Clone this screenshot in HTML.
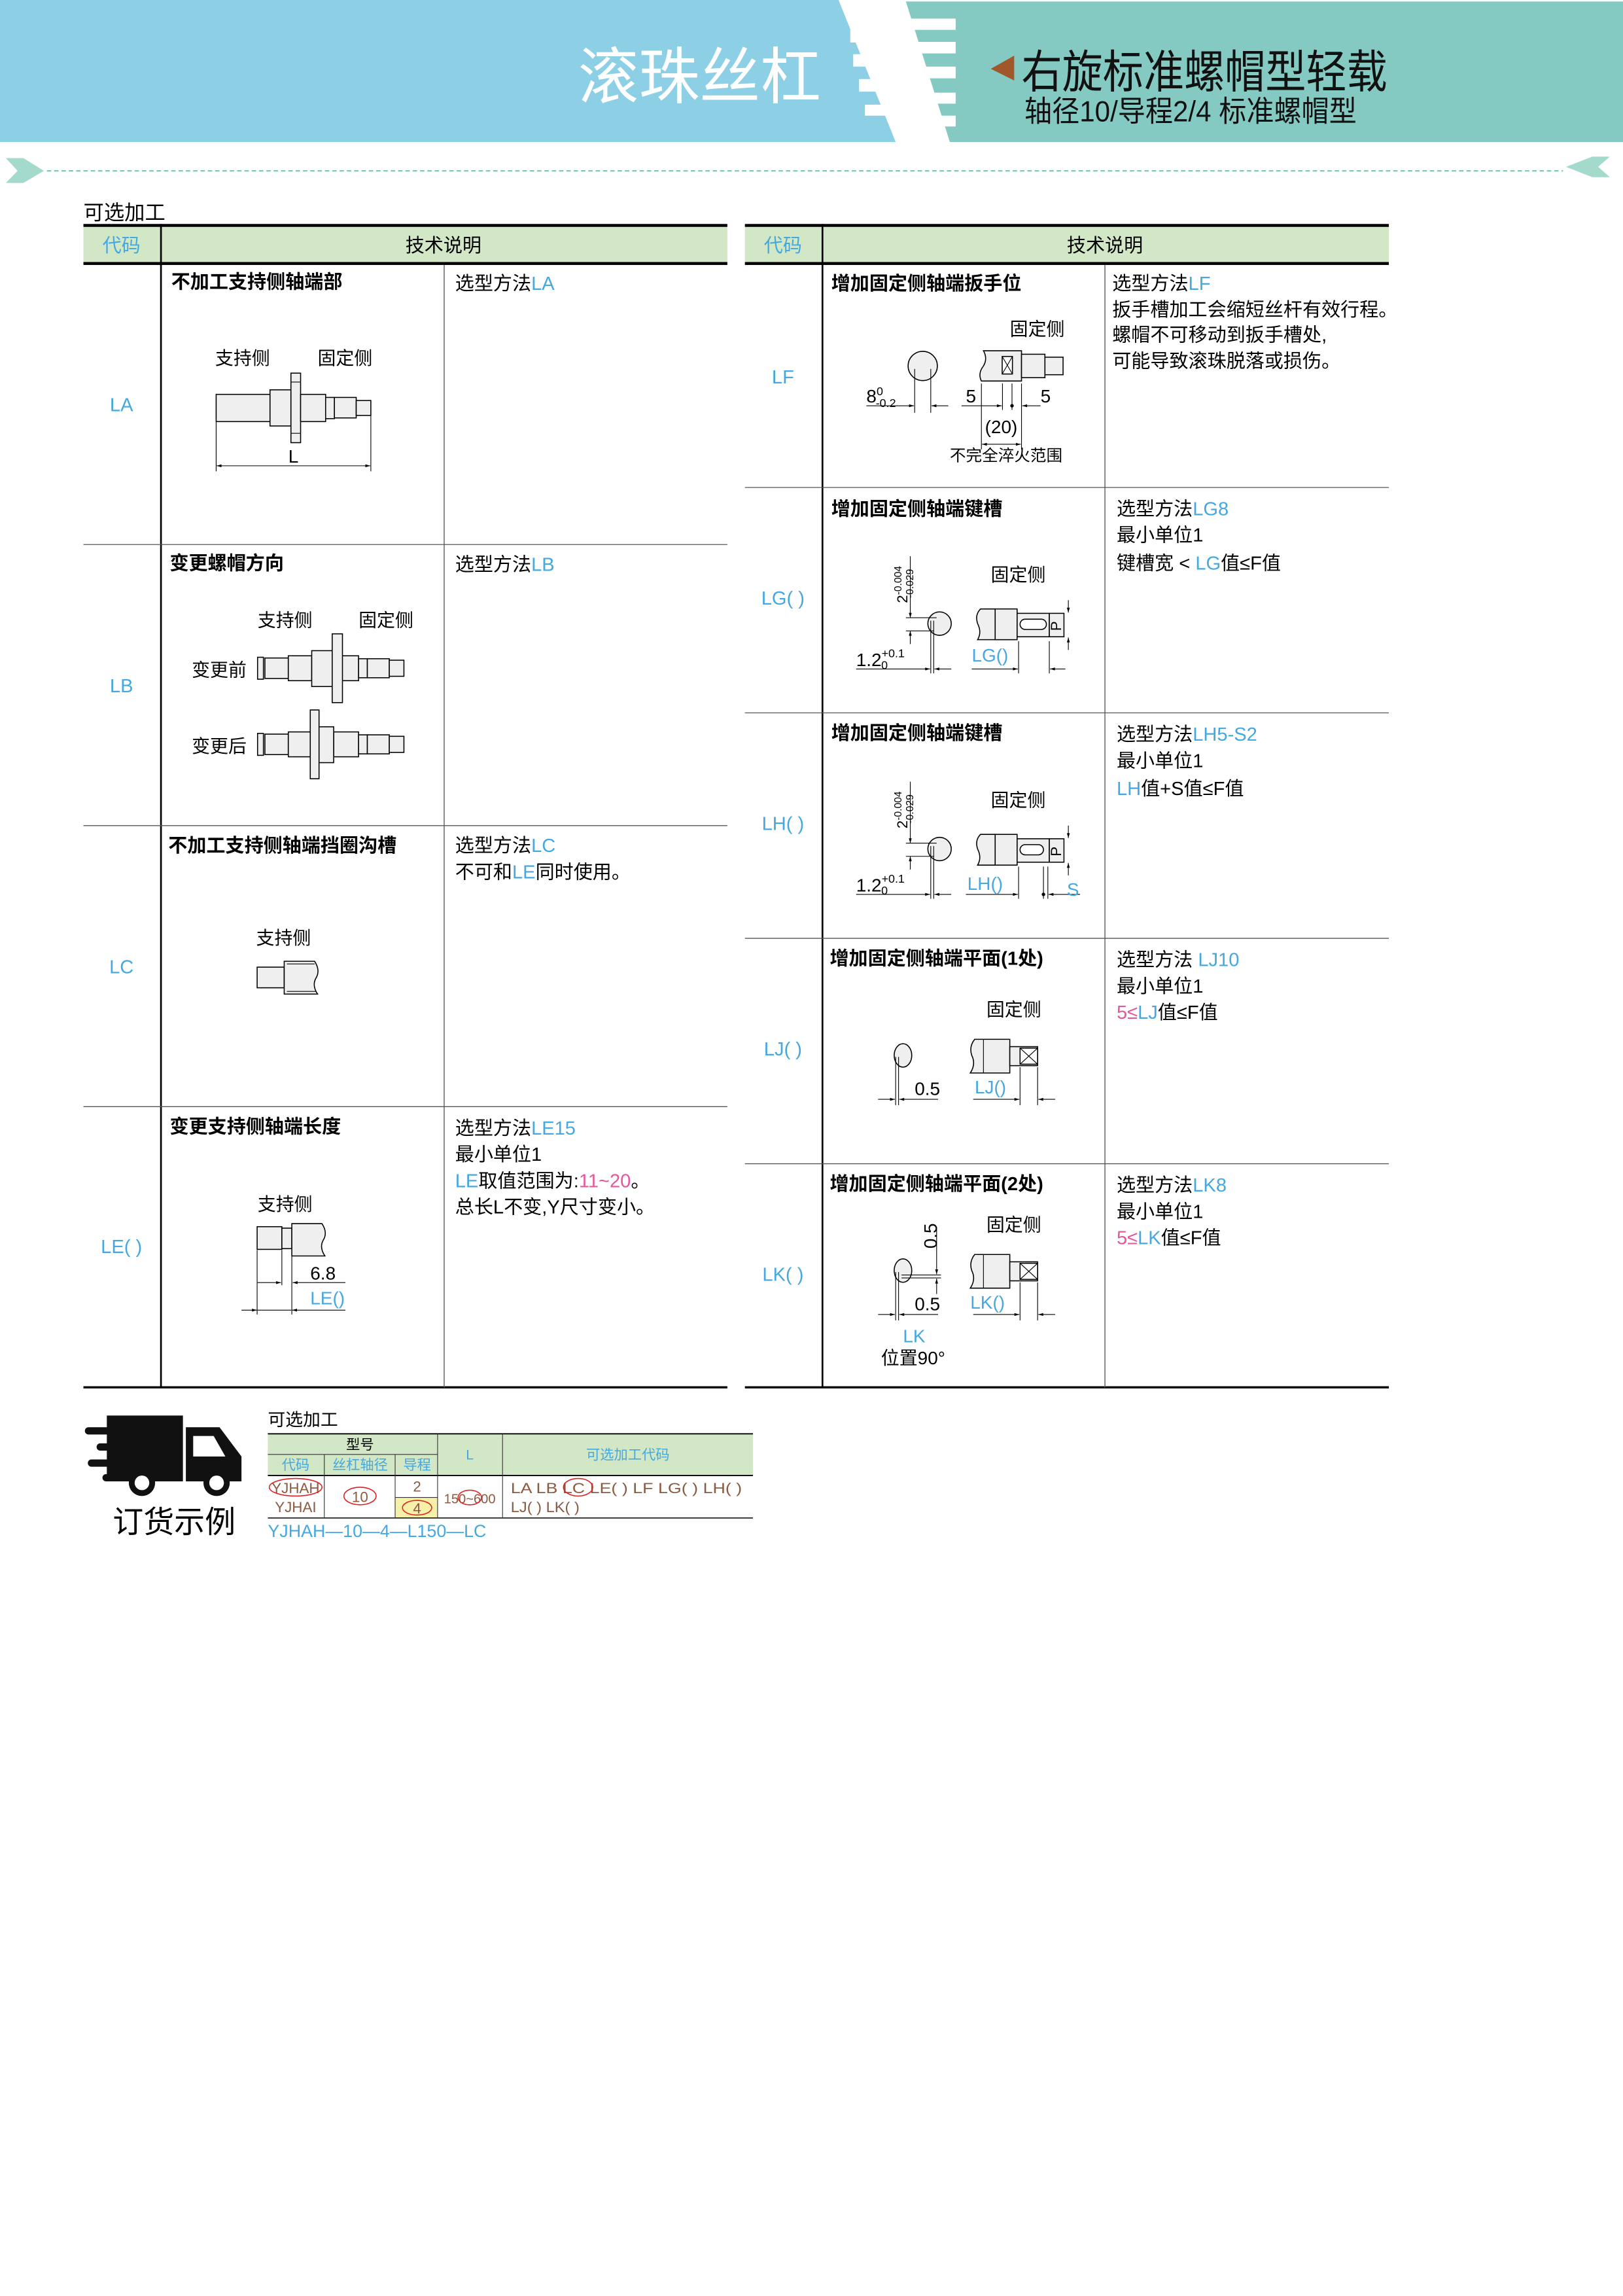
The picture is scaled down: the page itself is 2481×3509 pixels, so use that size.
<!DOCTYPE html>
<html><head><meta charset="utf-8"><style>
html,body{margin:0;padding:0;background:#fff;}
svg{display:block;}
text{font-family:"Liberation Sans","Noto Sans CJK SC",sans-serif;}
.b{fill:#45a8e0;}
.p{fill:#e6569a;}
.br{fill:#8c5a40;}
.s{fill:#efefef;stroke:#000;stroke-width:0.7;}
.w{fill:#fff;stroke:#000;stroke-width:0.7;}
.l{stroke:#000;stroke-width:0.5;fill:none;}
.t{font-size:13px;}
.tb{font-size:13px;font-weight:bold;}
.sm{font-size:12.5px;}
</style></head><body>
<svg width="2481" height="3509" viewBox="0 0 1109 1568.5" xmlns="http://www.w3.org/2000/svg">
<defs>
<marker id="a" viewBox="0 0 10 6" refX="10" refY="3" markerWidth="8" markerHeight="4" orient="auto-start-reverse"><path d="M0,0L10,3L0,6z" fill="#000"/></marker>
</defs>
<!-- header -->
<polygon points="0,0 573,0 612,97 0,97" fill="#8dd0e6"/>
<polygon points="619,1 1109,1 1109,97 649,97" fill="#85cac2"/>
<g fill="#fff">
<rect x="619" y="12.7" width="34" height="7.7"/><rect x="619" y="28.6" width="34" height="7.9"/><rect x="619" y="45.5" width="34" height="8"/><rect x="619" y="63.3" width="34" height="7.5"/><rect x="619" y="79" width="34" height="7.4"/>
<rect x="581" y="20.4" width="38" height="8.6"/><rect x="583" y="37" width="36" height="8.5"/><rect x="587" y="54" width="32" height="8.6"/><rect x="591" y="71.5" width="28" height="7.5"/>
</g>
<text x="395" y="67" font-size="42" fill="#fff" textLength="166" lengthAdjust="spacingAndGlyphs">滚珠丝杠</text>
<polygon points="693,38 677,47 693,55" fill="#a0582a"/>
<text x="698" y="60" font-size="31" fill="#111" textLength="250" lengthAdjust="spacingAndGlyphs">右旋标准螺帽型轻载</text>
<text x="700" y="83" font-size="20" fill="#111" textLength="227" lengthAdjust="spacingAndGlyphs">轴径10/导程2/4 标准螺帽型</text>
<!-- dotted line -->
<line x1="32" y1="116.7" x2="1068" y2="116.7" stroke="#7ccbb6" stroke-width="1" stroke-dasharray="3,2"/>
<g fill="#7ccbb6" opacity="0.7"><polygon points="4,108 16,108 30,116.7 16,125 4,125 12,116.7"/></g>
<g fill="#7ccbb6" opacity="0.7"><polygon points="1100,107 1088,107 1070,114 1088,121 1100,121 1092,114"/></g>
<text x="57" y="150" font-size="14">可选加工</text>

<!-- LEFT TABLE -->
<rect x="57" y="155" width="440" height="24" fill="#d2e7c6"/>
<rect x="57" y="153" width="440" height="2" fill="#000"/>
<rect x="57" y="179" width="440" height="2" fill="#000"/>
<rect x="57" y="947" width="440" height="1.5" fill="#000"/>
<line x1="110" y1="153" x2="110" y2="948" stroke="#000" stroke-width="1.2"/>
<line x1="303.5" y1="181" x2="303.5" y2="948" stroke="#555" stroke-width="0.6"/>
<g stroke="#555" stroke-width="0.6"><line x1="57" y1="372" x2="497" y2="372"/><line x1="57" y1="564" x2="497" y2="564"/><line x1="57" y1="756" x2="497" y2="756"/></g>
<text x="83" y="172" class="t b" text-anchor="middle">代码</text>
<text x="303" y="172" class="t" text-anchor="middle">技术说明</text>
<g class="t b" text-anchor="middle"><text x="83" y="281">LA</text><text x="83" y="473">LB</text><text x="83" y="665">LC</text><text x="83" y="856">LE( )</text></g>
<text x="117" y="197" class="tb">不加工支持侧轴端部</text>
<text x="116" y="389" class="tb">变更螺帽方向</text>
<text x="115" y="582" class="tb">不加工支持侧轴端挡圈沟槽</text>
<text x="116" y="774" class="tb">变更支持侧轴端长度</text>
<text x="311" y="198" class="t">选型方法<tspan class="b">LA</tspan></text>
<text x="311" y="390" class="t">选型方法<tspan class="b">LB</tspan></text>
<text x="311" y="582" class="t">选型方法<tspan class="b">LC</tspan></text>
<text x="311" y="600" class="t">不可和<tspan class="b">LE</tspan>同时使用。</text>
<text x="311" y="775" class="t">选型方法<tspan class="b">LE15</tspan></text>
<text x="311" y="793" class="t">最小单位1</text>
<text x="311" y="811" class="t"><tspan class="b">LE</tspan>取值范围为:<tspan class="p">11~20</tspan>。</text>
<text x="311" y="829" class="t">总长L不变,Y尺寸变小。</text>

<!-- LA drawing -->
<text x="147" y="249" class="sm">支持侧</text><text x="217" y="249" class="sm">固定侧</text>
<rect class="s" x="147.7" y="269.4" width="36.8" height="18.6"/>
<rect class="s" x="184.5" y="266.3" width="14.3" height="24.7"/>
<rect class="s" x="198.8" y="254.9" width="6.6" height="47.5"/>
<line class="l" x1="198.8" y1="261" x2="205.4" y2="261"/><line class="l" x1="198.8" y1="296" x2="205.4" y2="296"/>
<rect class="s" x="205.4" y="269.4" width="17.1" height="18.6"/>
<rect class="s" x="222.5" y="271.5" width="6" height="14.5"/>
<rect class="s" x="228.5" y="271.5" width="14.9" height="14"/>
<rect class="s" x="243.4" y="273.6" width="10" height="10.2"/>
<line class="l" x1="147.7" y1="288" x2="147.7" y2="322"/><line class="l" x1="253.4" y1="284" x2="253.4" y2="322"/>
<line class="l" x1="148" y1="318.2" x2="253" y2="318.2" marker-start="url(#a)" marker-end="url(#a)"/>
<text x="197" y="316" class="sm">L</text>

<!-- LB drawing -->
<text x="176" y="428" class="sm">支持侧</text><text x="245" y="428" class="sm">固定侧</text>
<text x="131" y="462" class="sm">变更前</text><text x="131" y="514" class="sm">变更后</text>
<g id="lbs">
<rect class="s" x="176" y="449" width="4" height="15"/>
<rect class="s" x="181" y="449.5" width="16" height="14"/>
<rect class="s" x="197" y="448" width="16" height="17"/>
<rect class="s" x="228" y="448" width="17" height="17"/>
<rect class="s" x="245" y="450" width="6" height="13"/>
<rect class="s" x="251" y="450" width="15" height="13"/>
<rect class="s" x="266" y="451" width="10" height="11"/>
</g>
<rect class="s" x="213" y="444.5" width="15" height="24.5"/>
<rect class="s" x="227" y="433" width="7" height="47"/>
<use href="#lbs" y="52"/>
<rect class="s" x="213" y="496.5" width="15" height="24.5"/>
<rect class="s" x="212" y="485" width="6" height="47"/>

<!-- LC drawing -->
<text x="175" y="645" class="sm">支持侧</text>
<rect class="s" x="175.7" y="660.7" width="18.5" height="14.1"/>
<path class="s" d="M194.2,656.7 H215 Q219,663 216,668 Q213,673 217,679.1 H194.2 Z"/>
<line class="l" x1="196" y1="658.5" x2="215" y2="658.5"/><line class="l" x1="196" y1="677.3" x2="216" y2="677.3"/>

<!-- LE drawing -->
<text x="176" y="827" class="sm">支持侧</text>
<rect class="s" x="175.7" y="838" width="16.9" height="15.5"/>
<rect class="s" x="192.6" y="839" width="6.8" height="14"/>
<path class="s" d="M199.4,835.9 H220 Q224,842 221,847 Q218,852 222,858 H199.4 Z"/>
<line class="l" x1="175.7" y1="854" x2="175.7" y2="898"/><line class="l" x1="192.6" y1="854" x2="192.6" y2="878"/><line class="l" x1="199.4" y1="858" x2="199.4" y2="898"/>
<line class="l" x1="176" y1="876.2" x2="192" y2="876.2" marker-end="url(#a)"/>
<line class="l" x1="200" y1="876.2" x2="236" y2="876.2" marker-start="url(#a)"/>
<line class="l" x1="165" y1="895" x2="175.5" y2="895" marker-end="url(#a)"/>
<line class="l" x1="176" y1="895" x2="199" y2="895"/>
<line class="l" x1="199.6" y1="895" x2="236" y2="895" marker-start="url(#a)"/>
<text x="212" y="874" class="sm">6.8</text>
<text x="212" y="891" class="sm b">LE()</text>

<!-- RIGHT TABLE -->
<rect x="509" y="155" width="440" height="24" fill="#d2e7c6"/>
<rect x="509" y="153" width="440" height="2" fill="#000"/>
<rect x="509" y="179" width="440" height="2" fill="#000"/>
<rect x="509" y="947" width="440" height="1.5" fill="#000"/>
<line x1="562" y1="153" x2="562" y2="948" stroke="#000" stroke-width="1.2"/>
<line x1="755" y1="181" x2="755" y2="948" stroke="#555" stroke-width="0.6"/>
<g stroke="#555" stroke-width="0.6"><line x1="509" y1="333" x2="949" y2="333"/><line x1="509" y1="487" x2="949" y2="487"/><line x1="509" y1="641" x2="949" y2="641"/><line x1="509" y1="795" x2="949" y2="795"/></g>
<text x="535" y="172" class="t b" text-anchor="middle">代码</text>
<text x="755" y="172" class="t" text-anchor="middle">技术说明</text>
<g class="t b" text-anchor="middle"><text x="535" y="262">LF</text><text x="535" y="413">LG( )</text><text x="535" y="567">LH( )</text><text x="535" y="721">LJ( )</text><text x="535" y="875">LK( )</text></g>
<text x="568" y="198" class="tb">增加固定侧轴端扳手位</text>
<text x="568" y="352" class="tb">增加固定侧轴端键槽</text>
<text x="568" y="505" class="tb">增加固定侧轴端键槽</text>
<text x="567" y="659" class="tb">增加固定侧轴端平面(1处)</text>
<text x="567" y="813" class="tb">增加固定侧轴端平面(2处)</text>
<text x="760" y="198" class="t">选型方法<tspan class="b">LF</tspan></text>
<text x="760" y="216" class="t">扳手槽加工会缩短丝杆有效行程。</text>
<text x="760" y="233" class="t">螺帽不可移动到扳手槽处,</text>
<text x="760" y="251" class="t">可能导致滚珠脱落或损伤。</text>
<text x="763" y="352" class="t">选型方法<tspan class="b">LG8</tspan></text>
<text x="763" y="370" class="t">最小单位1</text>
<text x="763" y="389" class="t">键槽宽 &lt; <tspan class="b">LG</tspan>值≤F值</text>
<text x="763" y="506" class="t">选型方法<tspan class="b">LH5-S2</tspan></text>
<text x="763" y="524" class="t">最小单位1</text>
<text x="763" y="543" class="t"><tspan class="b">LH</tspan>值+S值≤F值</text>
<text x="763" y="660" class="t">选型方法 <tspan class="b">LJ10</tspan></text>
<text x="763" y="678" class="t">最小单位1</text>
<text x="763" y="696" class="t"><tspan class="p">5≤</tspan><tspan class="b">LJ</tspan>值≤F值</text>
<text x="763" y="814" class="t">选型方法<tspan class="b">LK8</tspan></text>
<text x="763" y="832" class="t">最小单位1</text>
<text x="763" y="850" class="t"><tspan class="p">5≤</tspan><tspan class="b">LK</tspan>值≤F值</text>

<!-- LF drawing -->
<text x="690" y="229" class="sm">固定侧</text>
<circle class="s" cx="630.5" cy="250" r="10"/>
<path class="s" d="M672,239.6 H698 V260.3 H670.6 Q668,255 672,250 Q675,245 672,239.6 Z"/>
<rect class="w" x="684.8" y="243.5" width="7" height="12"/><path class="l" d="M684.8,243.5 L691.8,255.5 M691.8,243.5 L684.8,255.5"/>
<rect class="s" x="698" y="242" width="16" height="16"/><rect class="s" x="714" y="244" width="12.4" height="12"/>
<line class="l" x1="625" y1="252" x2="625" y2="282"/><line class="l" x1="636" y1="252" x2="636" y2="282"/>
<line class="l" x1="592" y1="277.2" x2="624.5" y2="277.2" marker-end="url(#a)"/><line class="l" x1="636.5" y1="277.2" x2="648" y2="277.2" marker-start="url(#a)"/>
<line class="l" x1="670.6" y1="262" x2="670.6" y2="307"/><line class="l" x1="685" y1="262" x2="685" y2="280"/><line class="l" x1="691.5" y1="262" x2="691.5" y2="280"/><line class="l" x1="698" y1="262" x2="698" y2="307"/>
<line class="l" x1="657" y1="277.2" x2="684.5" y2="277.2" marker-end="url(#a)"/><line class="l" x1="698.5" y1="277.2" x2="711" y2="277.2" marker-start="url(#a)"/><circle cx="691.5" cy="277.2" r="1.2"/>
<line class="l" x1="671" y1="303.5" x2="697.5" y2="303.5" marker-start="url(#a)" marker-end="url(#a)"/>
<text x="592" y="275" class="sm">8<tspan font-size="8" dy="-5">0</tspan><tspan font-size="8" dx="-5" dy="8">-0.2</tspan></text>
<text x="660" y="275" class="sm">5</text><text x="711" y="275" class="sm">5</text>
<text x="673" y="296" class="sm">(20)</text>
<text x="649" y="315" font-size="11">不完全淬火范围</text>

<!-- LG drawing -->
<g id="lg">
<text x="677" y="397" class="sm">固定侧</text>
<text transform="translate(620,412) rotate(-90)" font-size="10">2<tspan font-size="7" dy="-4">-0.004</tspan><tspan font-size="7" dx="-22" dy="8">-0.029</tspan></text>
<circle class="s" cx="642" cy="426" r="8"/>
<line class="l" x1="622" y1="380" x2="622" y2="422" marker-end="url(#a)"/><line class="l" x1="622" y1="431" x2="622" y2="440" marker-start="url(#a)"/>
<line class="l" x1="619" y1="422" x2="640" y2="422"/><line class="l" x1="619" y1="431" x2="638" y2="431"/>
<line class="l" x1="636" y1="424" x2="636" y2="460"/><line class="l" x1="638" y1="424" x2="638" y2="460"/>
<line class="l" x1="585" y1="457" x2="635.5" y2="457" marker-end="url(#a)"/><line class="l" x1="638.5" y1="457" x2="650" y2="457" marker-start="url(#a)"/>
<path class="s" d="M670,416 H680 V437 H668 Q671,432 668,426 Q666,420 670,416 Z"/>
<rect class="s" x="680" y="416" width="15" height="21"/>
<rect class="s" x="695" y="419" width="22" height="16"/>
<rect class="s" x="717" y="419" width="10" height="16"/>
</g>
<rect class="w" x="697" y="423" width="18" height="7" rx="3.5"/>
<line class="l" x1="730" y1="410" x2="730" y2="418.5" marker-end="url(#a)"/><line class="l" x1="730" y1="435.5" x2="730" y2="444" marker-start="url(#a)"/>
<line class="l" x1="696" y1="438" x2="696" y2="460"/><line class="l" x1="717" y1="438" x2="717" y2="460"/>
<line class="l" x1="664" y1="457" x2="695.5" y2="457" marker-end="url(#a)"/><line class="l" x1="717.5" y1="457" x2="728" y2="457" marker-start="url(#a)"/>
<text transform="translate(725,431) rotate(-90)" font-size="10">P</text>
<text x="585" y="455" class="sm">1.2<tspan font-size="8" dy="-6">+0.1</tspan><tspan font-size="8" dx="-16" dy="8">0</tspan></text>
<text x="664" y="452" class="sm b">LG()</text>

<!-- LH drawing -->
<use href="#lg" y="154"/>
<rect class="w" x="697" y="577" width="16" height="7" rx="3.5"/>
<line class="l" x1="730" y1="564" x2="730" y2="572.5" marker-end="url(#a)"/><line class="l" x1="730" y1="589.5" x2="730" y2="598" marker-start="url(#a)"/>
<line class="l" x1="696" y1="592" x2="696" y2="614"/><line class="l" x1="713" y1="592" x2="713" y2="614"/><line class="l" x1="716" y1="592" x2="716" y2="614"/>
<line class="l" x1="660" y1="611" x2="695.5" y2="611" marker-end="url(#a)"/><line class="l" x1="716.5" y1="611" x2="738" y2="611" marker-start="url(#a)"/><circle cx="713" cy="611" r="1.2"/>
<text transform="translate(725,585) rotate(-90)" font-size="10">P</text>
<text x="585" y="609" class="sm">1.2<tspan font-size="8" dy="-6">+0.1</tspan><tspan font-size="8" dx="-16" dy="8">0</tspan></text>
<text x="661" y="608" class="sm b">LH()</text>
<text x="729" y="612" class="sm b">S</text>

<!-- LJ drawing -->
<g id="lj">
<text x="674" y="694" class="sm">固定侧</text>
<ellipse class="s" cx="617" cy="721" rx="6" ry="8"/>
<line class="l" x1="612" y1="722" x2="612" y2="755"/><line class="l" x1="614" y1="722" x2="614" y2="755"/>
<line class="l" x1="600" y1="751" x2="611.5" y2="751" marker-end="url(#a)"/><line class="l" x1="614.5" y1="751" x2="641" y2="751" marker-start="url(#a)"/>
<path class="s" d="M666,710 H690 V733 H663 Q667,727 664,721 Q662,715 666,710 Z"/>
<line class="l" x1="672" y1="710" x2="672" y2="733"/>
<rect class="s" x="690" y="715" width="19" height="13"/>
<rect class="w" x="697" y="716" width="12" height="11"/><path class="l" d="M697,716 L709,727 M709,716 L697,727"/>
<line class="l" x1="697" y1="729" x2="697" y2="755"/><line class="l" x1="709" y1="729" x2="709" y2="755"/>
<line class="l" x1="665" y1="751" x2="696.5" y2="751" marker-end="url(#a)"/><line class="l" x1="709.5" y1="751" x2="721" y2="751" marker-start="url(#a)"/>
<text x="625" y="748" class="sm">0.5</text>
</g>
<text x="666" y="747" class="sm b">LJ()</text>
<use href="#lj" y="147"/>
<text x="663" y="894" class="sm b">LK()</text>
<line class="l" x1="616" y1="871" x2="643" y2="871"/><line class="l" x1="616" y1="873" x2="643" y2="873"/>
<line class="l" x1="640" y1="838" x2="640" y2="870.5" marker-end="url(#a)"/><line class="l" x1="640" y1="873.5" x2="640" y2="884" marker-start="url(#a)"/>
<text transform="translate(640,853) rotate(-90)" class="sm">0.5</text>
<text x="617" y="917" class="sm b">LK</text>
<text x="602" y="932" class="sm">位置90°</text>

<!-- ORDER EXAMPLE -->
<g fill="#111">
<path d="M73,967 H125 V1012 H73 Z"/>
<path d="M127,975 H150 L165,995 V1012 H127 Z"/>
<path d="M132,981 H146 L154,995 H132 Z" fill="#fff"/>
<rect x="58" y="975" width="40" height="5" rx="2.5"/><rect x="66" y="986" width="40" height="5" rx="2.5"/><rect x="60" y="997" width="40" height="5" rx="2.5"/><rect x="70" y="1007" width="40" height="5" rx="2.5"/>
<circle cx="97" cy="1013" r="9"/><circle cx="148" cy="1013" r="9"/>
<circle cx="97" cy="1013" r="5" fill="#fff"/><circle cx="148" cy="1013" r="5" fill="#fff"/>
</g>
<text x="77" y="1047" font-size="21">订货示例</text>
<text x="183" y="974" font-size="12">可选加工</text>
<rect x="183" y="979.5" width="331.5" height="28.5" fill="#d2e7c6"/>
<rect x="270" y="1023" width="29" height="14" fill="#f6f0a8"/>
<line x1="183" y1="979.5" x2="514.5" y2="979.5" stroke="#000" stroke-width="0.8"/>
<line x1="183" y1="1008" x2="514.5" y2="1008" stroke="#000" stroke-width="0.8"/>
<line x1="183" y1="1037" x2="514.5" y2="1037" stroke="#333" stroke-width="0.8"/>
<line x1="183" y1="993.6" x2="299" y2="993.6" stroke="#333" stroke-width="0.5"/>
<line x1="270" y1="1023" x2="299" y2="1023" stroke="#333" stroke-width="0.5"/>
<g stroke="#333" stroke-width="0.5"><line x1="221.6" y1="993.6" x2="221.6" y2="1037"/><line x1="270" y1="993.6" x2="270" y2="1037"/><line x1="299" y1="979.5" x2="299" y2="1037"/><line x1="343.4" y1="979.5" x2="343.4" y2="1037"/></g>
<g font-size="9.5" text-anchor="middle"><text x="246" y="990">型号</text>
<text x="202" y="1004" class="b">代码</text><text x="246" y="1004" class="b">丝杠轴径</text><text x="285" y="1004" class="b">导程</text>
<text x="321" y="997" class="b">L</text><text x="429" y="997" class="b">可选加工代码</text></g>
<g font-size="10" class="br">
<text x="202" y="1020" text-anchor="middle">YJHAH</text><text x="202" y="1033" text-anchor="middle">YJHAI</text>
<text x="246" y="1026" text-anchor="middle">10</text>
<text x="285" y="1019" text-anchor="middle">2</text><text x="285" y="1034" text-anchor="middle">4</text>
<text x="321" y="1027" text-anchor="middle" font-size="9">150~600</text>
<text x="349" y="1020" textLength="158" lengthAdjust="spacingAndGlyphs">LA  LB  LC  LE( )  LF  LG( )  LH( )</text>
<text x="349" y="1033" textLength="47" lengthAdjust="spacingAndGlyphs">LJ( )  LK( )</text>
</g>
<g fill="none" stroke="#e02020" stroke-width="0.7">
<ellipse cx="202" cy="1016" rx="18" ry="6"/><ellipse cx="246" cy="1022" rx="11" ry="6"/><ellipse cx="285" cy="1030" rx="10" ry="5"/><ellipse cx="321" cy="1023" rx="8" ry="5"/><ellipse cx="395" cy="1016" rx="10" ry="6"/>
</g>
<text x="183" y="1050" font-size="12" class="b">YJHAH—10—4—L150—LC</text>
</svg>
</body></html>
